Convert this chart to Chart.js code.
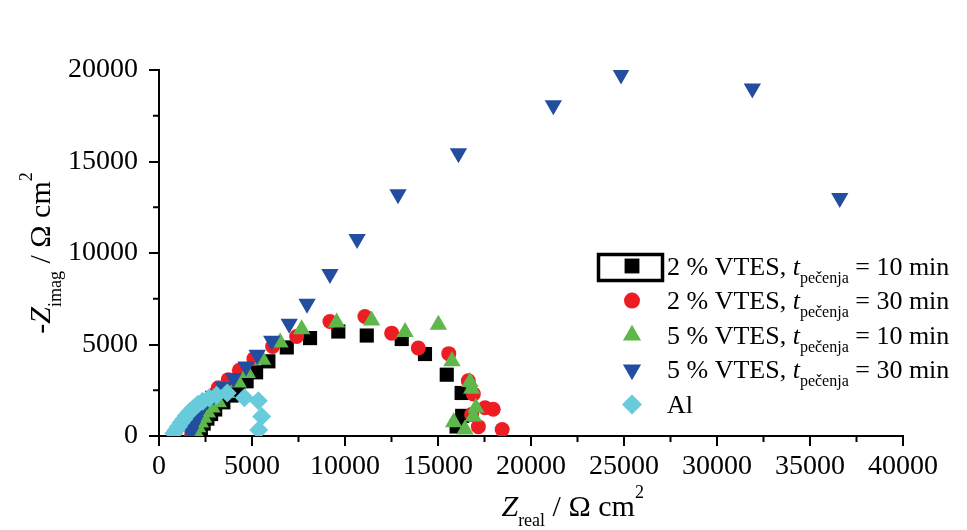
<!DOCTYPE html>
<html>
<head>
<meta charset="utf-8">
<script src="https://cdn.jsdelivr.net/npm/chart.js@4/dist/chart.umd.min.js"></script>
<style>
  html, body { margin: 0; padding: 0; background: #fff; }
</style>
</head>
<body>
<canvas id="chart" width="967" height="530"></canvas>
<script>
// Nyquist data, [Z real, -Z imag] in Ω cm²
const vtes2min10 = [
    [2100, 170], [2250, 420], [2400, 680], [2600, 950], [2800, 1200], [3020, 1450],
    [3460, 1840], [3900, 2210], [4260, 2630], [4710, 2990], [5220, 3480], [5880, 4080],
    [6870, 4840], [8120, 5350], [9640, 5710], [11170, 5490], [13050, 5300], [14300, 4480],
    [15470, 3350], [16270, 2350], [16300, 1100], [16000, 520],
];
const vtes2min30 = [
    [1760, 80], [1830, 300], [1920, 560], [2030, 820], [2170, 1080], [2340, 1350],
    [2540, 1620], [2800, 1950], [2950, 2250], [3190, 2630], [3730, 3080], [4320, 3590],
    [5100, 4220], [6110, 4890], [7400, 5440], [9190, 6260], [11070, 6530], [12510, 5620],
    [13940, 4810], [15580, 4500], [16630, 3020], [16900, 2300], [17530, 1540], [17970, 1460],
    [16810, 1170], [17170, 510], [18450, 350],
];
const vtes5min10 = [
    [1950, 230], [2080, 480], [2230, 740], [2400, 1000], [2600, 1280], [2850, 1560],
    [3190, 1840], [3640, 2350], [4260, 2930], [4750, 3440], [5570, 4170], [6510, 5110],
    [7670, 5840], [9550, 6200], [11430, 6310], [13230, 5680], [15020, 6080], [15750, 4080],
    [16720, 2950], [16810, 2580], [17040, 1540], [16900, 1060], [15840, 750], [16450, 350],
];
const vtes5min30 = [
    [1700, 200], [1800, 500], [1940, 820], [2060, 1120], [2220, 1420], [2400, 1700],
    [2600, 1950], [2920, 2200], [3460, 2680], [4000, 3170], [4680, 3800], [5280, 4440],
    [6060, 5200], [7000, 6130], [7960, 7220], [9190, 8850], [10650, 10760], [12850, 13210],
    [16100, 15450], [21200, 18070], [24840, 19760], [31900, 18990], [36600, 13000],
];
const aluminium = [
    [800, 150], [920, 330], [1050, 520], [1180, 720], [1330, 920], [1480, 1120],
    [1650, 1320], [1850, 1520], [2080, 1720], [2350, 1900], [2700, 2080], [3100, 2230],
    [3670, 2350], [4590, 2090], [5340, 1920], [5520, 1070], [5360, 330],
];

const labelPrefix = ['2 % VTES, ', '2 % VTES, ', '5 % VTES, ', '5 % VTES, ', 'Al'];
const labelTime = ['10', '30', '10', '30', null];

const SERIF = '"Liberation Serif", "Times New Roman", serif';

const styles = [
    { color: '#000000', pointStyle: 'rect', radius: 10, rotation: 0 },
    { color: '#ee1d23', pointStyle: 'circle', radius: 7.5, rotation: 0 },
    { color: '#5db74a', pointStyle: 'triangle', radius: 10, rotation: 0 },
    { color: '#234ea0', pointStyle: 'triangle', radius: 10, rotation: 180 },
    { color: '#67cbdb', pointStyle: 'rectRot', radius: 9.5, rotation: 0 },
];

const toPoints = arr => arr.map(p => ({ x: p[0], y: p[1] }));
const allSeries = [vtes2min10, vtes2min30, vtes5min10, vtes5min30, aluminium];

// draws a run of text pieces, each with its own font and baseline shift
function drawParts(ctx, parts, x, y, measureOnly) {
    let w = 0;
    parts.forEach(p => {
        ctx.font = p.font;
        if (!measureOnly) ctx.fillText(p.t, x + w, y + (p.dy || 0));
        w += ctx.measureText(p.t).width;
    });
    return w;
}

const titlesPlugin = {
    id: 'titles',
    afterDraw(chart) {
        const ctx = chart.ctx;
        const area = chart.chartArea;
        const main = '30px ' + SERIF;
        const ital = 'italic 30px ' + SERIF;
        const small = '18px ' + SERIF;
        ctx.save();
        ctx.fillStyle = '#000';
        ctx.textBaseline = 'alphabetic';

        const xParts = [
            { t: 'Z', font: ital },
            { t: 'real', font: small, dy: 10 },
            { t: ' / Ω cm', font: main },
            { t: '2', font: small, dy: -18 },
        ];
        const xw = drawParts(ctx, xParts, 0, 0, true);
        const xc = area.left + area.width * 0.556;
        drawParts(ctx, xParts, xc - xw / 2, area.bottom + 80);

        const yParts = [
            { t: '-', font: main },
            { t: 'Z', font: ital },
            { t: 'imag', font: small, dy: 11 },
            { t: ' / Ω cm', font: main },
            { t: '2', font: small, dy: -18 },
        ];
        const yw = drawParts(ctx, yParts, 0, 0, true);
        ctx.translate(50, (area.top + area.bottom) / 2);
        ctx.rotate(-Math.PI / 2);
        drawParts(ctx, yParts, -yw / 2, 0);
        ctx.restore();
    },
};

const minorTicksPlugin = {
    id: 'minorTicks',
    afterDraw(chart) {
        const ctx = chart.ctx;
        ctx.save();
        ctx.strokeStyle = '#000';
        ctx.lineWidth = 2;
        ['x', 'y'].forEach(id => {
            const s = chart.scales[id];
            const t = s.ticks;
            for (let i = 0; i < t.length - 1; i++) {
                const p = s.getPixelForValue((t[i].value + t[i + 1].value) / 2);
                ctx.beginPath();
                if (id === 'x') {
                    ctx.moveTo(p, s.top);
                    ctx.lineTo(p, s.top + 6);
                } else {
                    ctx.moveTo(s.right, p);
                    ctx.lineTo(s.right - 6, p);
                }
                ctx.stroke();
            }
        });
        ctx.restore();
    },
};

const legendPlugin = {
    id: 'eisLegend',
    afterDraw(chart) {
        const ctx = chart.ctx;
        const symX = 632, textX = 667, rowY = 266, step = 34.6;
        ctx.save();
        chart.data.datasets.forEach((ds, i) => {
            const yc = rowY + i * step;
            const st = styles[i];
            ctx.fillStyle = st.color;
            ctx.strokeStyle = st.color;
            Chart.helpers.drawPoint(ctx, {
                pointStyle: st.pointStyle,
                radius: st.radius + 0.5,
                rotation: st.rotation,
                borderWidth: 0,
            }, symX, yc);

            ctx.fillStyle = '#000';
            ctx.textBaseline = 'alphabetic';
            const parts = [{ t: labelPrefix[i], font: '26px ' + SERIF }];
            if (labelTime[i]) {
                parts.push({ t: 't', font: 'italic 26px ' + SERIF });
                parts.push({ t: 'pečenja', font: '16px ' + SERIF, dy: 8 });
                parts.push({ t: ' = ' + labelTime[i] + ' min', font: '26px ' + SERIF });
            }
            drawParts(ctx, parts, textX, yc + 8.5);
        });
        // selection frame around the first legend symbol
        ctx.strokeStyle = '#000';
        ctx.lineWidth = 3.5;
        ctx.strokeRect(598.5, 254.5, 64, 26);
        ctx.restore();
    },
};

const axisCommon = {
    type: 'linear',
    grid: { drawOnChartArea: false, drawTicks: true, tickLength: 10, color: '#000', lineWidth: 2 },
    border: { display: true, color: '#000', width: 2 },
};

new Chart(document.getElementById('chart'), {
    type: 'scatter',
    data: {
        datasets: allSeries.map((arr, i) => ({
            label: labelPrefix[i] + (labelTime[i] || ''),
            data: toPoints(arr),
            pointStyle: styles[i].pointStyle,
            pointRadius: styles[i].radius,
            pointRotation: styles[i].rotation,
            pointBackgroundColor: styles[i].color,
            pointBorderColor: styles[i].color,
            pointBorderWidth: 0,
            showLine: false,
            order: 5 - i,
        })),
    },
    options: {
        responsive: false,
        animation: false,
        layout: { padding: { top: 70, right: 64, left: 0, bottom: 0 } },
        plugins: { legend: { display: false }, tooltip: { enabled: false } },
        scales: {
            x: {
                ...axisCommon,
                min: 0,
                max: 40000,
                afterFit: s => { s.height = 94; },
                ticks: {
                    stepSize: 5000, autoSkip: false, maxRotation: 0, padding: 4,
                    color: '#000', font: { family: SERIF, size: 28 },
                    callback: v => String(v),
                },
            },
            y: {
                ...axisCommon,
                min: 0,
                max: 20000,
                afterFit: s => { s.width = 159; },
                ticks: {
                    stepSize: 5000, autoSkip: false, padding: 11,
                    color: '#000', font: { family: SERIF, size: 28 },
                    callback: v => String(v),
                },
            },
        },
    },
    plugins: [minorTicksPlugin, titlesPlugin, legendPlugin],
});
</script>
</body>
</html>
